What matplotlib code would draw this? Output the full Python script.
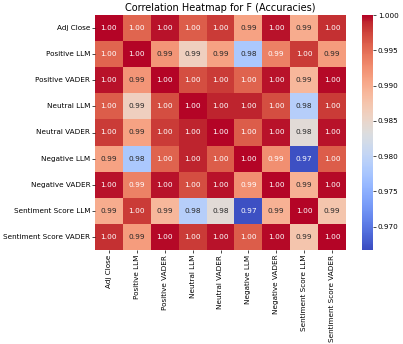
import matplotlib
matplotlib.use("Agg")
import matplotlib.pyplot as plt
import numpy as np
import pandas as pd
import seaborn as sns

labels = ["Adj Close", "Positive LLM", "Positive VADER", "Neutral LLM", "Neutral VADER",
          "Negative LLM", "Negative VADER", "Sentiment Score LLM", "Sentiment Score VADER"]

# корреляции по строкам (матрица симметричная)
adj_close       = [1.0000, 0.9955, 0.9995, 0.9960, 0.9980, 0.9910, 0.9995, 0.9900, 0.9985]
positive_llm    = [0.9955, 1.0000, 0.9920, 0.9860, 0.9910, 0.9780, 0.9935, 0.9980, 0.9915]
positive_vader  = [0.9995, 0.9920, 1.0000, 0.9970, 0.9980, 0.9956, 0.9995, 0.9890, 0.9998]
neutral_llm     = [0.9960, 0.9860, 0.9970, 1.0000, 0.9990, 0.9990, 0.9970, 0.9790, 0.9980]
neutral_vader   = [0.9980, 0.9910, 0.9980, 0.9990, 1.0000, 0.9960, 0.9995, 0.9840, 0.9995]
negative_llm    = [0.9910, 0.9780, 0.9956, 0.9990, 0.9960, 1.0000, 0.9925, 0.9670, 0.9960]
negative_vader  = [0.9995, 0.9935, 0.9995, 0.9970, 0.9995, 0.9925, 1.0000, 0.9895, 0.9998]
sentiment_llm   = [0.9900, 0.9980, 0.9890, 0.9790, 0.9840, 0.9670, 0.9895, 1.0000, 0.9875]
sentiment_vader = [0.9985, 0.9915, 0.9998, 0.9980, 0.9995, 0.9960, 0.9998, 0.9875, 1.0000]

corr = pd.DataFrame([adj_close, positive_llm, positive_vader, neutral_llm, neutral_vader,
                     negative_llm, negative_vader, sentiment_llm, sentiment_vader],
                    index=labels, columns=labels)

W, H = 403, 344
fig = plt.figure(figsize=(W / 100, H / 100), dpi=100)
ax = fig.add_axes([95 / W, (H - 250) / H, 251 / W, 235 / H])
cax = fig.add_axes([362 / W, (H - 250) / H, 11 / W, 235 / H])

sns.heatmap(corr, ax=ax, cbar_ax=cax, cmap="coolwarm", annot=True, fmt=".2f",
            annot_kws={"size": 5.3}, vmin=0.9667, vmax=1.0)

ax.set_title("Correlation Heatmap for F (Accuracies)", fontsize=7, pad=3)
ax.tick_params(axis="both", labelsize=5.2, length=2, width=0.5, pad=1.5)
ax.set_xticklabels(labels, rotation=90)
ax.set_yticklabels(labels, rotation=0)

cax.set_yticks([0.97, 0.975, 0.98, 0.985, 0.99, 0.995, 1.0])
cax.set_yticklabels(["0.970", "0.975", "0.980", "0.985", "0.990", "0.995", "1.000"])
cax.tick_params(labelsize=5.2, length=2, width=0.5, pad=1.5)
for sp in cax.spines.values():
    sp.set_visible(False)

plt.savefig("out.png", dpi=100)
